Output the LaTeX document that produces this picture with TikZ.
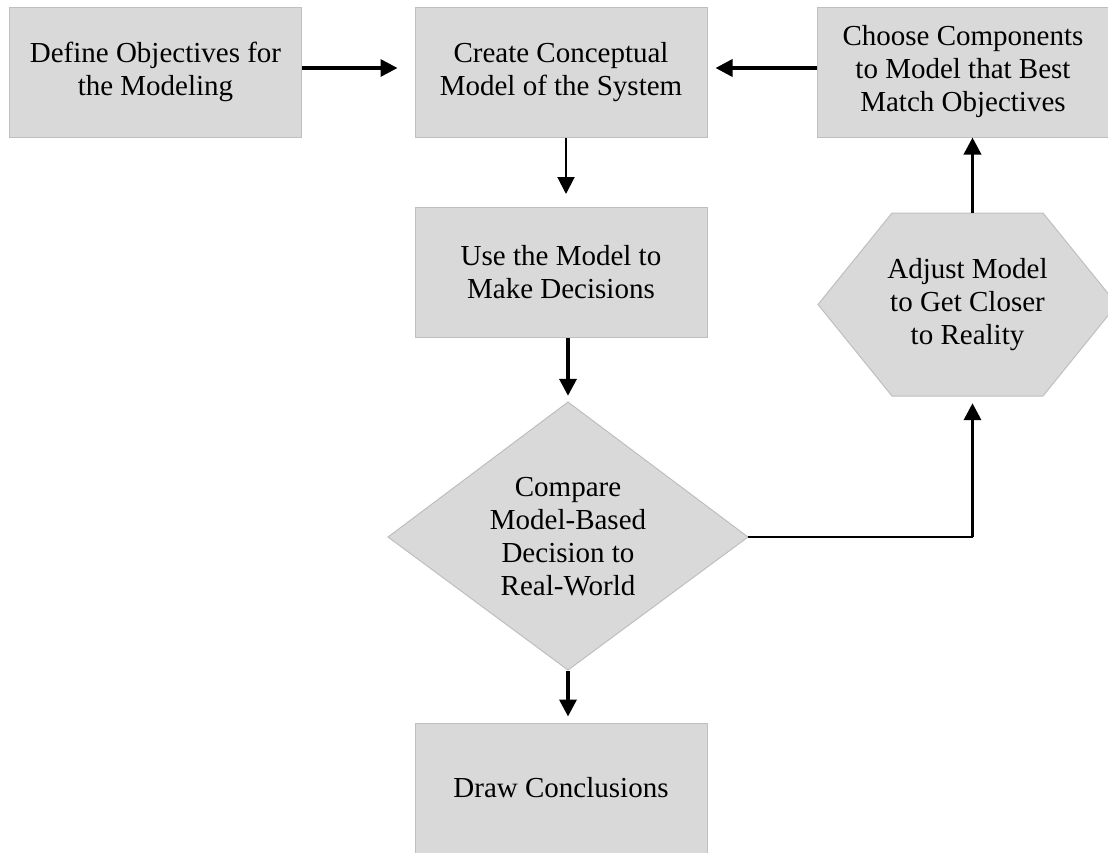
\documentclass[tikz,border=0pt]{standalone}
\usepackage{fontspec}
\setmainfont{Liberation Serif}
\usetikzlibrary{arrows.meta}
\definecolor{boxfill}{HTML}{D9D9D9}
\definecolor{boxline}{HTML}{BFBFBF}
\begin{document}
\begin{tikzpicture}[x=1pt,y=-1pt,
  every node/.style={font=\fontsize{29}{33}\selectfont, align=center, inner sep=0pt},
  stepbox/.style={rectangle, fill=boxfill, draw=boxline, line width=1pt, minimum width=292pt, minimum height=130pt},
  shapefill/.style={fill=boxfill, draw=boxline, line width=1pt},
  holder/.style={rectangle},
  flow/.style={line width=3.5pt, -{Triangle[length=17pt,width=17pt]}},
  thinflow/.style={line width=2pt, -{Triangle[length=17pt,width=17pt]}},
  thinline/.style={line width=2pt},
]
\useasboundingbox (0,0) rectangle (1108,852);
\clip (0,0) rectangle (1108,852);

% rectangular steps
\node[stepbox] (def) at (155.5,72) {Define Objectives for\\the Modeling};
\node[stepbox] (create) at (561,72) {Create Conceptual\\Model of the System};
\node[stepbox] (choose) at (963,72) {Choose Components\\to Model that Best\\Match Objectives};
\node[stepbox] (use) at (561,272.5) {Use the Model to\\Make Decisions};
\node[stepbox] (concl) at (561,788) {Draw Conclusions};

% diamond
\path[shapefill] (568,402) -- (748,537) -- (568,670) -- (388,537) -- cycle;
\node[holder, minimum width=360pt, minimum height=268pt] (dia) at (568,537)
  {Compare\\Model-Based\\Decision to\\Real-World};

% hexagon
\path[shapefill] (818,304.5) -- (892,213) -- (1043,213) -- (1117,304.5) -- (1043,396) -- (892,396) -- cycle;
\node[holder, minimum width=299pt, minimum height=183pt] (adjust) at (967.5,304.5)
  {Adjust Model\\to Get Closer\\to Reality};

\coordinate (corner) at (972.5,537);

% connectors
\draw[flow] ([yshift=4pt]def.east) -- ([yshift=4pt,xshift=-17pt]create.west);
\draw[flow] ([yshift=4pt]choose.west) -- ([yshift=4pt,xshift=8pt]create.east);
\draw[thinflow] ([xshift=5pt]create.south) -- ([xshift=5pt,yshift=13pt]use.north);
\draw[flow] ([xshift=7pt]use.south) -- ([yshift=7pt]dia.north);
\draw[flow] (dia.south) -- ([xshift=7pt,yshift=6pt]concl.north);
\draw[thinline] (dia.east) -- (corner);
\draw[flow] (corner) -- ([xshift=5pt,yshift=-7pt]adjust.south);
\draw[flow] ([xshift=5pt]adjust.north) -- ([xshift=9.5pt]choose.south);
\end{tikzpicture}
\end{document}
